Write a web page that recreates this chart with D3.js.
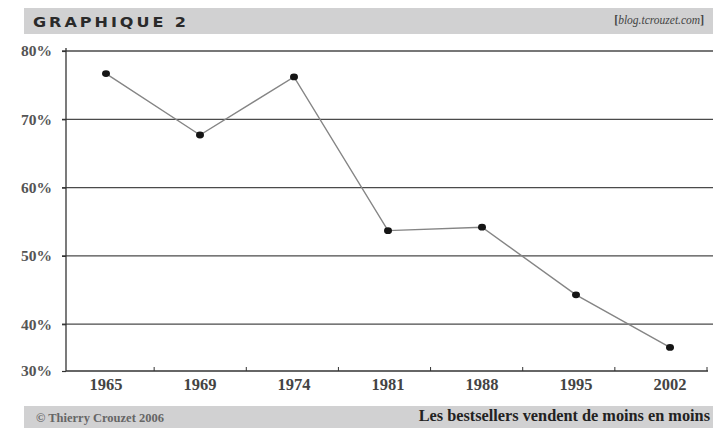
<!DOCTYPE html>
<html>
<head>
<meta charset="utf-8">
<script src="https://cdn.jsdelivr.net/npm/d3@7"></script>
<style>
  html, body { margin: 0; padding: 0; background: #fff; }
  svg { display: block; }
</style>
</head>
<body>
<script>
// data
var years = ["1965", "1969", "1974", "1981", "1988", "1995", "2002"];
var shares = [76.7, 67.7, 76.2, 53.7, 54.2, 44.3, 36.6];
var yTickValues = [33.15, 40, 50, 60, 70, 80];
var yTickLabels = ["30%", "40%", "50%", "60%", "70%", "80%"];

var width = 713, height = 428;
var axisLeft = 66, axisRight = 708, gridRight = 713,
    plotTop = 51, plotBottom = 371;

var svg = d3.select("body").append("svg")
    .attr("width", width)
    .attr("height", height);

// header band
svg.append("rect")
    .attr("x", 24).attr("y", 8)
    .attr("width", width - 24).attr("height", 26)
    .attr("fill", "#d1d1d2");

svg.append("text")
    .attr("x", 33).attr("y", 26.5)
    .attr("textLength", 156)
    .attr("lengthAdjust", "spacingAndGlyphs")
    .style("font-family", "'DejaVu Sans', sans-serif")
    .style("font-weight", "bold")
    .style("font-size", "13.5px")
    .style("letter-spacing", "2.5px")
    .attr("fill", "#2a2a2a")
    .text("GRAPHIQUE 2");

var src = svg.append("text")
    .attr("x", 704).attr("y", 24)
    .attr("text-anchor", "end")
    .style("font-family", "'Liberation Serif', serif")
    .style("font-size", "11.5px")
    .attr("fill", "#444");
src.append("tspan").style("font-weight", "bold").text("[");
src.append("tspan").style("font-style", "italic").text("blog.tcrouzet.com");
src.append("tspan").style("font-weight", "bold").text("]");

// scales
var y = d3.scaleLinear()
    .domain([yTickValues[0], 80])
    .range([plotBottom, plotTop]);

var x = d3.scalePoint()
    .domain(years)
    .range([106, 670]);

var xb = d3.scaleBand()
    .domain(years)
    .range([62, 707]);

// gridlines
svg.append("g")
    .selectAll("line")
    .data(yTickValues.slice(1))
    .join("line")
    .attr("x1", 62).attr("x2", gridRight)
    .attr("y1", function (d) { return y(d); })
    .attr("y2", function (d) { return y(d); })
    .attr("stroke", "#4a4a4a")
    .attr("stroke-width", 1.3);

// y axis
var yAxis = d3.axisLeft(y)
    .tickValues(yTickValues)
    .tickFormat(function (d, i) { return yTickLabels[i]; })
    .tickSize(4)
    .tickPadding(10);

var gy = svg.append("g")
    .attr("transform", "translate(" + axisLeft + ",0)")
    .call(yAxis);
gy.select(".domain").remove();
gy.selectAll(".tick line").attr("stroke", "#333").attr("stroke-width", 1.2);
gy.selectAll(".tick text")
    .attr("fill", "#555")
    .style("font-family", "'Liberation Serif', serif")
    .style("font-weight", "bold")
    .style("font-size", "15.5px");

svg.append("line")
    .attr("x1", axisLeft).attr("x2", axisLeft)
    .attr("y1", plotTop - 3).attr("y2", plotBottom)
    .attr("stroke", "#333").attr("stroke-width", 1.3);

// x axis
svg.append("line")
    .attr("x1", axisLeft).attr("x2", axisRight)
    .attr("y1", plotBottom).attr("y2", plotBottom)
    .attr("stroke", "#333").attr("stroke-width", 1.3);

svg.append("g")
    .selectAll("line")
    .data(years)
    .join("line")
    .attr("x1", function (d) { return xb(d) + xb.bandwidth(); })
    .attr("x2", function (d) { return xb(d) + xb.bandwidth(); })
    .attr("y1", plotBottom).attr("y2", plotBottom - 4)
    .attr("stroke", "#333").attr("stroke-width", 1);

svg.append("g")
    .selectAll("text")
    .data(years)
    .join("text")
    .attr("x", function (d) { return x(d); })
    .attr("y", plotBottom + 19)
    .attr("text-anchor", "middle")
    .attr("fill", "#444")
    .style("font-family", "'Liberation Serif', serif")
    .style("font-weight", "bold")
    .style("font-size", "16.5px")
    .text(function (d) { return d; });

// line + points
var line = d3.line()
    .x(function (d, i) { return x(years[i]); })
    .y(function (d) { return y(d); });

svg.append("path")
    .datum(shares)
    .attr("d", line)
    .attr("fill", "none")
    .attr("stroke", "#858585")
    .attr("stroke-width", 1.4);

svg.append("g")
    .selectAll("ellipse")
    .data(shares)
    .join("ellipse")
    .attr("cx", function (d, i) { return x(years[i]); })
    .attr("cy", function (d) { return y(d); })
    .attr("rx", 4)
    .attr("ry", 3.4)
    .attr("fill", "#151515");

// footer band
svg.append("rect")
    .attr("x", 24).attr("y", 406)
    .attr("width", width - 24).attr("height", 22)
    .attr("fill", "#d1d1d2");

svg.append("text")
    .attr("x", 36).attr("y", 421.5)
    .attr("fill", "#666")
    .style("font-family", "'Liberation Serif', serif")
    .style("font-weight", "bold")
    .style("font-size", "12.5px")
    .text("© Thierry Crouzet 2006");

svg.append("text")
    .attr("x", 710).attr("y", 421)
    .attr("text-anchor", "end")
    .attr("fill", "#222")
    .style("font-family", "'Liberation Serif', serif")
    .style("font-weight", "bold")
    .style("font-size", "16.3px")
    .text("Les bestsellers vendent de moins en moins");
</script>
</body>
</html>
